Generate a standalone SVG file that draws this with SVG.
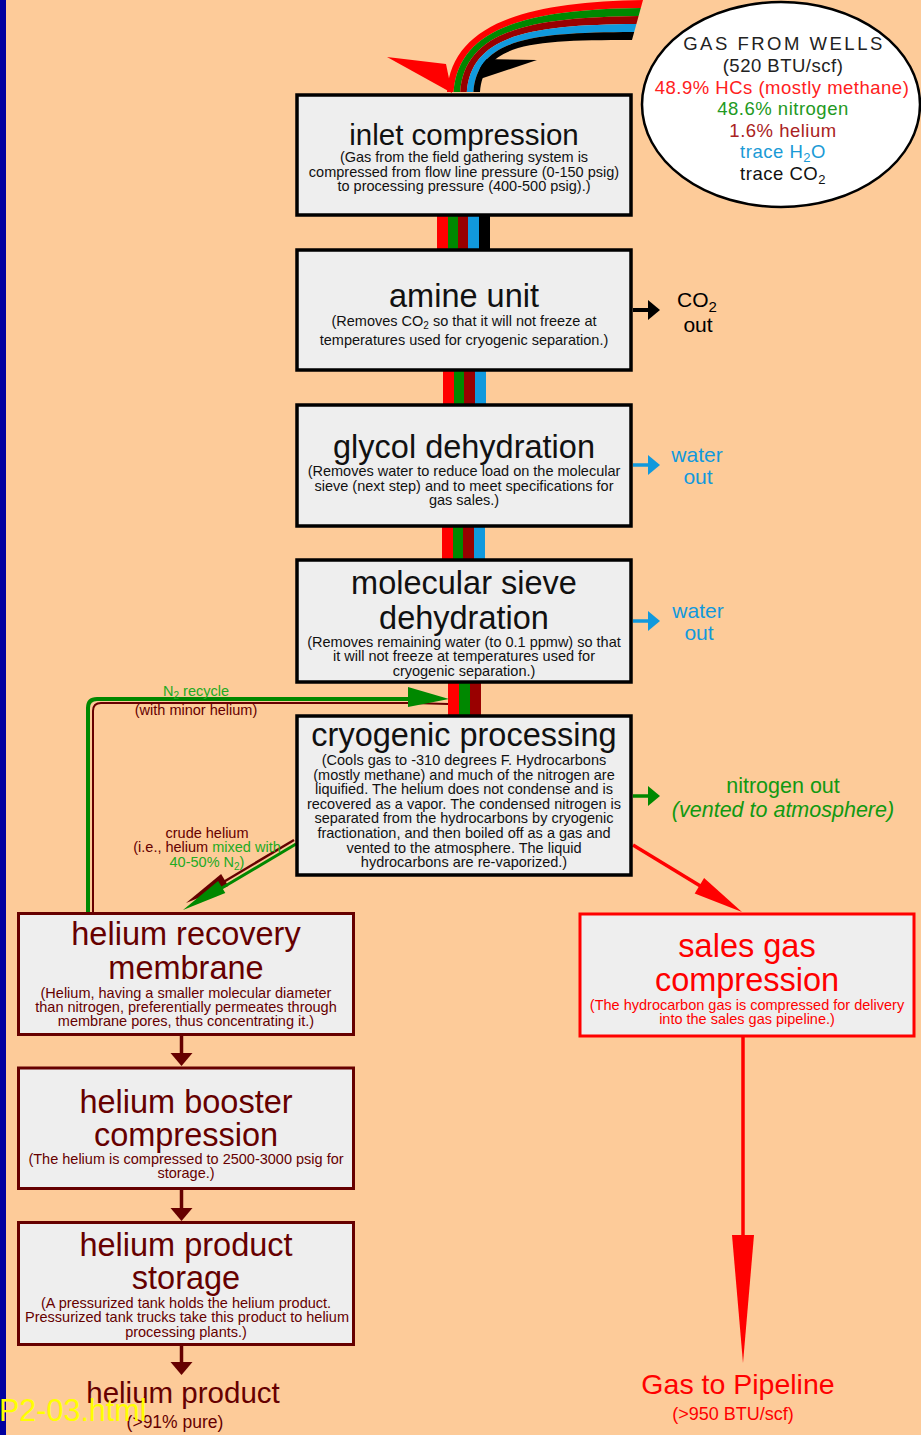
<svg xmlns="http://www.w3.org/2000/svg" width="921" height="1435" viewBox="0 0 921 1435">
  <style>
    .t { font-family: "Liberation Sans", Arial, Helvetica, sans-serif; text-anchor: middle; }
    .title { font-size: 32.5px; fill: #111; }
    .sub { font-size: 14.5px; fill: #111; }
    .box { fill: #EEEEEE; stroke: #000; stroke-width: 3.5; }
    .hbox { fill: #EEEEEE; stroke: #660000; stroke-width: 3; }
    .sbox { fill: #EEEEEE; stroke: #FF0000; stroke-width: 3; }
    .he { fill: #660000; }
    .sg { fill: #FF0000; }
    .red { fill: #FF0000; }
    .grn { fill: #008800; }
    .dkr { fill: #990000; }
    .blu { fill: #1199DD; }
    .blk { fill: #000; }
    .side { font-size: 21px; }
  </style>

  <!-- page background and left strip -->
  <rect x="0" y="0" width="921" height="1435" fill="#FDCB99"/>
  <rect x="0" y="0" width="6" height="1435" fill="#0000A0"/>

  <!-- ===== connectors ===== -->
  <g id="connectors">
    <!-- incoming gas swoosh (red, green, dark red, blue, black) -->
    <g id="feed-swoosh">
      <polygon points="387,57 446,64 452,93" fill="#FF0000"/>
      <polygon points="537,60 482,59 477,80" fill="#000"/>
      <path class="red" d="M643,0 C530,2 452,22 447,92 L453.6,92 C458.4,26 531,9.6 640.8,8 Z"/>
      <path class="grn" d="M640.8,8 C531,9.6 458.4,26 453.6,92 L460.2,92 C464.8,30 532,17.2 638.6,16 Z"/>
      <path class="dkr" d="M638.6,16 C532,17.2 464.8,30 460.2,92 L466.8,92 C471.2,34 533,24.8 636.4,24 Z"/>
      <path class="blu" d="M636.4,24 C533,24.8 471.2,34 466.8,92 L473.4,92 C477.6,38 534,32.4 634.2,32 Z"/>
      <path class="blk" d="M634.2,32 C534,32.4 477.6,38 473.4,92 L480,92 C484,42 535,40 632,40 Z"/>
    </g>

    <!-- inlet compression -> amine unit -->
    <g id="band-1">
      <rect class="red" x="437" y="215" width="11" height="36"/>
      <rect class="grn" x="448" y="215" width="10" height="36"/>
      <rect class="dkr" x="458" y="215" width="10" height="36"/>
      <rect class="blu" x="468" y="215" width="11" height="36"/>
      <rect class="blk" x="479" y="215" width="11" height="36"/>
    </g>
    <!-- amine unit -> glycol dehydration -->
    <g id="band-2">
      <rect class="red" x="443" y="370" width="11" height="36"/>
      <rect class="grn" x="454" y="370" width="10" height="36"/>
      <rect class="dkr" x="464" y="370" width="11" height="36"/>
      <rect class="blu" x="475" y="370" width="11" height="36"/>
    </g>
    <!-- glycol dehydration -> molecular sieve -->
    <g id="band-3">
      <rect class="red" x="442" y="526" width="11" height="35"/>
      <rect class="grn" x="453" y="526" width="10" height="35"/>
      <rect class="dkr" x="463" y="526" width="11" height="35"/>
      <rect class="blu" x="474" y="526" width="11" height="35"/>
    </g>
    <!-- molecular sieve -> cryogenic processing -->
    <g id="band-4">
      <rect class="red" x="448" y="682" width="11" height="35"/>
      <rect class="grn" x="459" y="682" width="11" height="35"/>
      <rect class="dkr" x="470" y="682" width="11" height="35"/>
    </g>

    <!-- side outlets -->
    <g id="co2-outlet">
      <line x1="633" y1="310" x2="650" y2="310" stroke="#000" stroke-width="4"/>
      <polygon points="648,300 660,310 648,320" fill="#000"/>
    </g>
    <g id="water-outlet-1">
      <line x1="633" y1="465" x2="650" y2="465" stroke="#1199DD" stroke-width="3.5"/>
      <polygon points="648,455 660,465 648,475" fill="#1199DD"/>
    </g>
    <g id="water-outlet-2">
      <line x1="633" y1="621" x2="650" y2="621" stroke="#1199DD" stroke-width="3.5"/>
      <polygon points="648,611 660,621 648,631" fill="#1199DD"/>
    </g>
    <g id="nitrogen-outlet">
      <line x1="633" y1="796" x2="650" y2="796" stroke="#008800" stroke-width="3.5"/>
      <polygon points="648,786 660,796 648,806" fill="#008800"/>
    </g>

    <!-- N2 recycle loop back into the cold box feed -->
    <g id="n2-recycle">
      <path d="M93,912 V711 Q93,703 101,703 H412 L448,704" fill="none" stroke="#660000" stroke-width="2"/>
      <path d="M88,912 V708 Q88,699 97,699 H410" fill="none" stroke="#008800" stroke-width="4"/>
      <polygon points="408,687 449,699 408,707" fill="#008800"/>
    </g>

    <!-- crude helium to membrane -->
    <g id="crude-helium">
      <line x1="294" y1="840" x2="200" y2="896" stroke="#660000" stroke-width="2.5"/>
      <polygon points="186,903 228.3,886 221.1,874" fill="#660000"/>
      <line x1="296" y1="844" x2="210" y2="895" stroke="#008800" stroke-width="3"/>
      <polygon points="183,910 225.3,893.1 218.1,881" fill="#008800"/>
    </g>

    <!-- hydrocarbons to sales gas compression -->
    <g id="to-sales">
      <line x1="633" y1="845" x2="702" y2="887" stroke="#FF0000" stroke-width="3.5"/>
      <polygon points="742,912 694.7,893.5 704.1,878.1" fill="#FF0000"/>
    </g>

    <!-- helium train -->
    <g id="he-arrows" fill="#660000">
      <line x1="181.5" y1="1036" x2="181.5" y2="1055" stroke="#660000" stroke-width="3.5"/>
      <polygon points="170.5,1053 192.5,1053 181.5,1066"/>
      <line x1="181.5" y1="1190" x2="181.5" y2="1210" stroke="#660000" stroke-width="3.5"/>
      <polygon points="170.5,1208 192.5,1208 181.5,1221"/>
      <line x1="181.5" y1="1346" x2="181.5" y2="1364" stroke="#660000" stroke-width="3.5"/>
      <polygon points="170.5,1362 192.5,1362 181.5,1375"/>
    </g>

    <!-- sales gas to pipeline -->
    <g id="to-pipeline">
      <line x1="743" y1="1037" x2="743" y2="1237" stroke="#FF0000" stroke-width="3.5"/>
      <polygon points="732,1235 754,1235 743,1363" fill="#FF0000"/>
    </g>
  </g>

  <!-- ===== connector labels ===== -->
  <g id="labels" class="t">
    <text x="196" y="696" font-size="14.5" fill="#22AA22">N<tspan font-size="10" dy="3">2</tspan><tspan dy="-3"> recycle</tspan></text>
    <text x="196" y="715" font-size="14.5" fill="#660000">(with minor helium)</text>
    <text x="207" y="838" font-size="14.5" fill="#660000">crude helium</text>
    <text x="207" y="852" font-size="14.5" fill="#660000">(i.e., helium <tspan fill="#22AA22">mixed with</tspan></text>
    <text x="207" y="867" font-size="14.5" fill="#22AA22">40-50% N<tspan font-size="10" dy="3">2</tspan><tspan dy="-3">)</tspan></text>
    <text x="697" y="307" class="side" fill="#000">CO<tspan font-size="15" dy="5">2</tspan></text>
    <text x="698" y="332" class="side" fill="#000">out</text>
    <text x="697" y="462" class="side" fill="#1199DD">water</text>
    <text x="698" y="484" class="side" fill="#1199DD">out</text>
    <text x="698" y="618" class="side" fill="#1199DD">water</text>
    <text x="699" y="640" class="side" fill="#1199DD">out</text>
    <text x="783" y="793" font-size="21.5" fill="#119911">nitrogen out</text>
    <text x="783" y="817" font-size="21.5" font-style="italic" fill="#119911">(vented to atmosphere)</text>
  </g>

  <!-- ===== nodes ===== -->
  <g id="gas-from-wells">
    <ellipse cx="781" cy="104.5" rx="139" ry="102.5" fill="#FFFFFF" stroke="#000" stroke-width="2.5"/>
    <g class="t" font-size="18.5" letter-spacing="0.5">
      <text x="784" y="50" fill="#222" letter-spacing="2.5">GAS FROM WELLS</text>
      <text x="783" y="72" fill="#222">(520 BTU/scf)</text>
      <text x="782" y="94" fill="#FF2020">48.9% HCs (mostly methane)</text>
      <text x="783" y="115" fill="#229922">48.6% nitrogen</text>
      <text x="783" y="137" fill="#AA2222">1.6% helium</text>
      <text x="783" y="158" fill="#1A9AD6">trace H<tspan font-size="13" dy="4">2</tspan><tspan dy="-4">O</tspan></text>
      <text x="783" y="180" fill="#111">trace CO<tspan font-size="13" dy="4">2</tspan></text>
    </g>
  </g>

  <g id="inlet-compression">
    <rect class="box" x="297" y="95" width="334" height="120"/>
    <text class="t title" x="464" y="145" style="font-size:29.5px">inlet compression</text>
    <text class="t sub" x="464" y="162">(Gas from the field gathering system is</text>
    <text class="t sub" x="464" y="176.5">compressed from flow line pressure (0-150 psig)</text>
    <text class="t sub" x="464" y="191">to processing pressure (400-500 psig).)</text>
  </g>

  <g id="amine-unit">
    <rect class="box" x="297" y="250" width="334" height="120"/>
    <text class="t title" x="464" y="307">amine unit</text>
    <text class="t sub" x="464" y="326">(Removes CO<tspan font-size="10" dy="3">2</tspan><tspan dy="-3"> so that it will not freeze at</tspan></text>
    <text class="t sub" x="464" y="345">temperatures used for cryogenic separation.)</text>
  </g>

  <g id="glycol-dehydration">
    <rect class="box" x="297" y="405" width="334" height="121"/>
    <text class="t title" x="464" y="458">glycol dehydration</text>
    <text class="t sub" x="464" y="476">(Removes water to reduce load on the molecular</text>
    <text class="t sub" x="464" y="491">sieve (next step) and to meet specifications for</text>
    <text class="t sub" x="464" y="505">gas sales.)</text>
  </g>

  <g id="molecular-sieve">
    <rect class="box" x="297" y="560" width="334" height="122"/>
    <text class="t title" x="464" y="594">molecular sieve</text>
    <text class="t title" x="464" y="629">dehydration</text>
    <text class="t sub" x="464" y="647">(Removes remaining water (to 0.1 ppmw) so that</text>
    <text class="t sub" x="464" y="661">it will not freeze at temperatures used for</text>
    <text class="t sub" x="464" y="676">cryogenic separation.)</text>
  </g>

  <g id="cryogenic-processing">
    <rect class="box" x="297" y="716" width="334" height="159"/>
    <text class="t title" x="464" y="746">cryogenic processing</text>
    <text class="t sub" x="464" y="765">(Cools gas to -310 degrees F. Hydrocarbons</text>
    <text class="t sub" x="464" y="779.6">(mostly methane) and much of the nitrogen are</text>
    <text class="t sub" x="464" y="794.2">liquified. The helium does not condense and is</text>
    <text class="t sub" x="464" y="808.8">recovered as a vapor. The condensed nitrogen is</text>
    <text class="t sub" x="464" y="823.4">separated from the hydrocarbons by cryogenic</text>
    <text class="t sub" x="464" y="838">fractionation, and then boiled off as a gas and</text>
    <text class="t sub" x="464" y="852.6">vented to the atmosphere. The liquid</text>
    <text class="t sub" x="464" y="867.2">hydrocarbons are re-vaporized.)</text>
  </g>

  <g id="helium-recovery-membrane">
    <rect class="hbox" x="18.5" y="913.5" width="335" height="121"/>
    <text class="t title he" x="186" y="945">helium recovery</text>
    <text class="t title he" x="186" y="979">membrane</text>
    <text class="t sub he" x="186" y="998">(Helium, having a smaller molecular diameter</text>
    <text class="t sub he" x="186" y="1012">than nitrogen, preferentially permeates through</text>
    <text class="t sub he" x="186" y="1026">membrane pores, thus concentrating it.)</text>
  </g>

  <g id="helium-booster-compression">
    <rect class="hbox" x="18.5" y="1068" width="335" height="120.5"/>
    <text class="t title he" x="186" y="1113">helium booster</text>
    <text class="t title he" x="186" y="1146">compression</text>
    <text class="t sub he" x="186" y="1164">(The helium is compressed to 2500-3000 psig for</text>
    <text class="t sub he" x="186" y="1178">storage.)</text>
  </g>

  <g id="helium-product-storage">
    <rect class="hbox" x="18.5" y="1222.5" width="335" height="122"/>
    <text class="t title he" x="186" y="1256">helium product</text>
    <text class="t title he" x="186" y="1289">storage</text>
    <text class="t sub he" x="186" y="1308">(A pressurized tank holds the helium product.</text>
    <text class="t sub he" x="187" y="1322">Pressurized tank trucks take this product to helium</text>
    <text class="t sub he" x="186" y="1337">processing plants.)</text>
  </g>

  <g id="sales-gas-compression">
    <rect class="sbox" x="580" y="914" width="334" height="122"/>
    <text class="t title sg" x="747" y="957">sales gas</text>
    <text class="t title sg" x="747" y="991">compression</text>
    <text class="t sub sg" x="747" y="1010">(The hydrocarbon gas is compressed for delivery</text>
    <text class="t sub sg" x="747" y="1024">into the sales gas pipeline.)</text>
  </g>

  <g id="helium-product">
    <text class="t he" x="183" y="1403" font-size="29.5">helium product</text>
    <text class="t he" x="175" y="1428" font-size="17.5">(&gt;91% pure)</text>
  </g>

  <g id="gas-to-pipeline">
    <text class="t sg" x="738" y="1394" font-size="28.5">Gas to Pipeline</text>
    <text class="t sg" x="733" y="1420" font-size="18">(&gt;950 BTU/scf)</text>
  </g>

  <text x="-1" y="1421" font-family="Liberation Sans, Arial, sans-serif" font-size="30.5" fill="#FFFF00">P2-03.html</text>
</svg>
